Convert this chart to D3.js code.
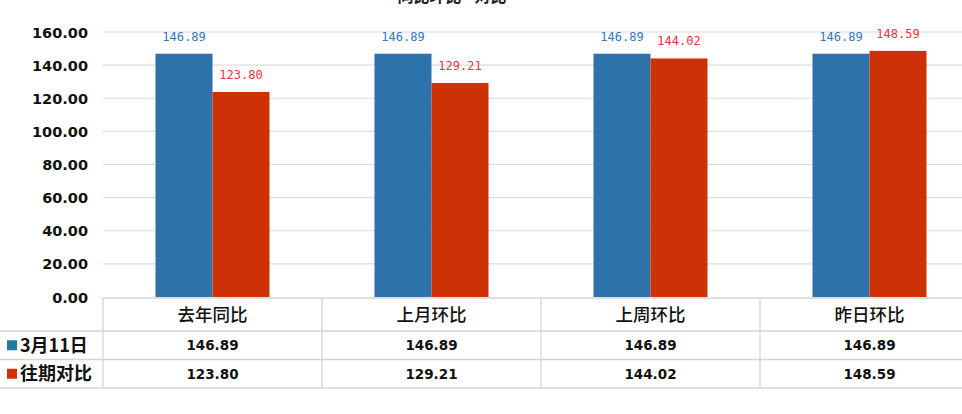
<!DOCTYPE html>
<html><head><meta charset="utf-8">
<script src="https://cdn.jsdelivr.net/npm/d3@7"></script>
<style>
html,body{margin:0;padding:0;background:#fff;}
svg{display:block;}
</style></head>
<body>
<svg id="chart" width="962" height="414"></svg>
<script>
const categories = ["去年同比", "上月环比", "上周环比", "昨日环比"];
const seriesNames = ["3月11日", "往期对比"];
const currentValues = [146.89, 146.89, 146.89, 146.89];
const pastValues = [123.80, 129.21, 144.02, 148.59];
const yTicks = [0, 20, 40, 60, 80, 100, 120, 140, 160];
const barColors = ["#2e72ac", "#cc3206"];
const labelColors = ["#2f78c0", "#f0323c"];
const legendColors = ["#1f7ca0", "#d0300c"];

const svg = d3.select("#chart");
const left = 103, plotTop = 32, plotBottom = 297;
const band = 219;
const x = d3.scaleBand().domain(categories).range([left, left + band * 4]).paddingInner(0).paddingOuter(0);
const y = d3.scaleLinear().domain([0, 160]).range([plotBottom, plotTop]);
const xs = d3.scaleBand().domain([0, 1]).range([0, band]).paddingInner(0).paddingOuter((band - 114) / 2 / 57);

// title (cut at the top edge, as in the reference)
svg.append("text").attr("x", 452).attr("y", 2).attr("text-anchor", "middle")
  .attr("font-family", "Noto Sans CJK SC").attr("font-size", 16).attr("font-weight", "bold")
  .attr("fill", "#222").text("同比环比 - 对比");

// gridlines
svg.append("g").selectAll("line").data(yTicks.filter(d => d > 0)).join("line")
  .attr("x1", left).attr("x2", 962).attr("y1", d => y(d)).attr("y2", d => y(d))
  .attr("stroke", "#dcdcdc").attr("stroke-width", 1.2);

// y axis labels
const yAxis = d3.axisLeft(y).tickValues(yTicks).tickFormat(d3.format(".2f")).tickSize(0).tickPadding(0);
const ya = svg.append("g").attr("transform", "translate(88,0)").call(yAxis);
ya.select(".domain").remove();
ya.selectAll("text").attr("font-family", "DejaVu Sans").attr("font-size", 14.5).attr("font-weight", "bold")
  .attr("fill", "#111").attr("dy", "0.35em");

// bars
const series = [currentValues, pastValues];
series.forEach((vals, si) => {
  const g = svg.append("g");
  g.selectAll("rect").data(vals).join("rect")
    .attr("x", (d, i) => x(categories[i]) + xs(si))
    .attr("width", xs.bandwidth())
    .attr("y", d => y(d))
    .attr("height", d => y(0) - y(d))
    .attr("fill", barColors[si]);
  g.selectAll("text").data(vals).join("text")
    .attr("x", (d, i) => x(categories[i]) + xs(si) + xs.bandwidth() / 2)
    .attr("y", d => y(d) - 13)
    .attr("text-anchor", "middle")
    .attr("font-family", "DejaVu Sans Mono").attr("font-size", 12)
    .attr("fill", labelColors[si])
    .text(d => d3.format(".2f")(d));
});

// data table
const rowY = [298, 331, 359.5, 388];
const tbl = svg.append("g");
const lineColor = "#d4d4d4";
tbl.append("line").attr("x1", left).attr("x2", 962).attr("y1", rowY[0]).attr("y2", rowY[0]).attr("stroke", lineColor).attr("stroke-width", 1.3);
[1, 2, 3].forEach(k => {
  tbl.append("line").attr("x1", 0).attr("x2", 962).attr("y1", rowY[k]).attr("y2", rowY[k]).attr("stroke", lineColor).attr("stroke-width", 1.3);
});
const vlines = [left].concat(categories.slice(1).map(c => x(c)));
tbl.selectAll("line.v").data(vlines).join("line").attr("class", "v")
  .attr("x1", d => d).attr("x2", d => d).attr("y1", rowY[0]).attr("y2", rowY[3])
  .attr("stroke", lineColor).attr("stroke-width", 1.3);

tbl.selectAll("text.cat").data(categories).join("text").attr("class", "cat")
  .attr("x", d => x(d) + x.bandwidth() / 2).attr("y", (rowY[0] + rowY[1]) / 2)
  .attr("dy", "0.36em").attr("text-anchor", "middle")
  .attr("font-family", "Noto Sans CJK SC").attr("font-size", 17.5).attr("font-weight", 500)
  .attr("fill", "#111").text(d => d);

series.forEach((vals, si) => {
  const cy = (rowY[si + 1] + rowY[si + 2]) / 2;
  tbl.selectAll("text.v" + si).data(vals).join("text").attr("class", "v" + si)
    .attr("x", (d, i) => x(categories[i]) + x.bandwidth() / 2).attr("y", cy)
    .attr("dy", "0.36em").attr("text-anchor", "middle")
    .attr("font-family", "DejaVu Sans").attr("font-size", 13.5).attr("font-weight", "bold")
    .attr("fill", "#111").text(d => d3.format(".2f")(d));
  tbl.append("rect").attr("x", 7).attr("y", cy - 5).attr("width", 10).attr("height", 10).attr("fill", legendColors[si]);
  tbl.append("text").attr("x", 20).attr("y", cy).attr("dy", "0.36em")
    .attr("font-family", "Noto Sans CJK SC").attr("font-size", 18).attr("font-weight", "bold")
    .attr("fill", "#111").text(seriesNames[si]);
});
</script>
</body></html>
